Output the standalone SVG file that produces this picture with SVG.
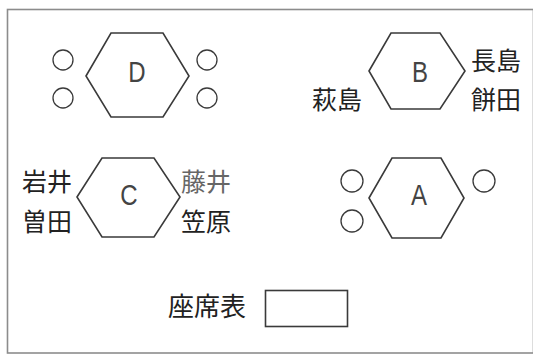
<svg xmlns="http://www.w3.org/2000/svg" width="533" height="355" viewBox="0 0 533 355">
<style>
.hex{fill:none;stroke:#3a3a3a;stroke-width:1.6;stroke-linejoin:miter}
.cir{fill:none;stroke:#3a3a3a;stroke-width:1.3}
.lat{font-family:"Liberation Sans",Arial,sans-serif;font-size:30px;fill:#444;text-anchor:middle}
.jp{font-family:"Noto Sans CJK JP","Noto Sans CJK SC",sans-serif;font-size:25px;fill:#222;dominant-baseline:central}
</style>
<rect x="7.5" y="9.5" width="526" height="343.5" fill="#fff" stroke="#8c8c8c" stroke-width="1.6"/>
<g id="nodeD">
<polygon class="hex" points="86,76 111,33 163,33 189,76 163,117 111,117"/>
<text class="lat" transform="translate(137,82) scale(0.8,1)">D</text>
<circle class="cir" cx="63" cy="60" r="10"/>
<circle class="cir" cx="63" cy="98" r="10"/>
<circle class="cir" cx="207" cy="60" r="10"/>
<circle class="cir" cx="207" cy="98" r="10"/>
</g>
<g id="nodeB">
<polygon class="hex" points="369,71 391,33 440,33 465,71 440,109 391,109"/>
<text class="lat" transform="translate(420,82) scale(0.8,1)">B</text>
<text class="jp" x="471" y="58.5">長島</text>
<text class="jp" x="471" y="97.5">餅田</text>
<text class="jp" x="312" y="97.5">萩島</text>
</g>
<g id="nodeC">
<polygon class="hex" points="77,197 102,158 154,158 180,197 154,237 102,237"/>
<text class="lat" transform="translate(129,205) scale(0.8,1)">C</text>
<text class="jp" x="22" y="180">岩井</text>
<text class="jp" x="22" y="220">曽田</text>
<text class="jp" x="181" y="180" style="fill:#666">藤井</text>
<text class="jp" x="181" y="220">笠原</text>
</g>
<g id="nodeA">
<polygon class="hex" points="369,198 392,158 441,158 464,198 441,238 392,238"/>
<text class="lat" transform="translate(419,205) scale(0.8,1)">A</text>
<circle class="cir" cx="352" cy="181" r="11"/>
<circle class="cir" cx="352" cy="221" r="11"/>
<circle class="cir" cx="484" cy="181" r="11"/>
</g>
<g id="seating">
<text class="jp" x="168" y="304" style="font-size:26px">座席表</text>
<rect x="265.5" y="290.5" width="82" height="36" fill="none" stroke="#3a3a3a" stroke-width="1.6"/>
</g>
<g id="connectors"></g>
</svg>
